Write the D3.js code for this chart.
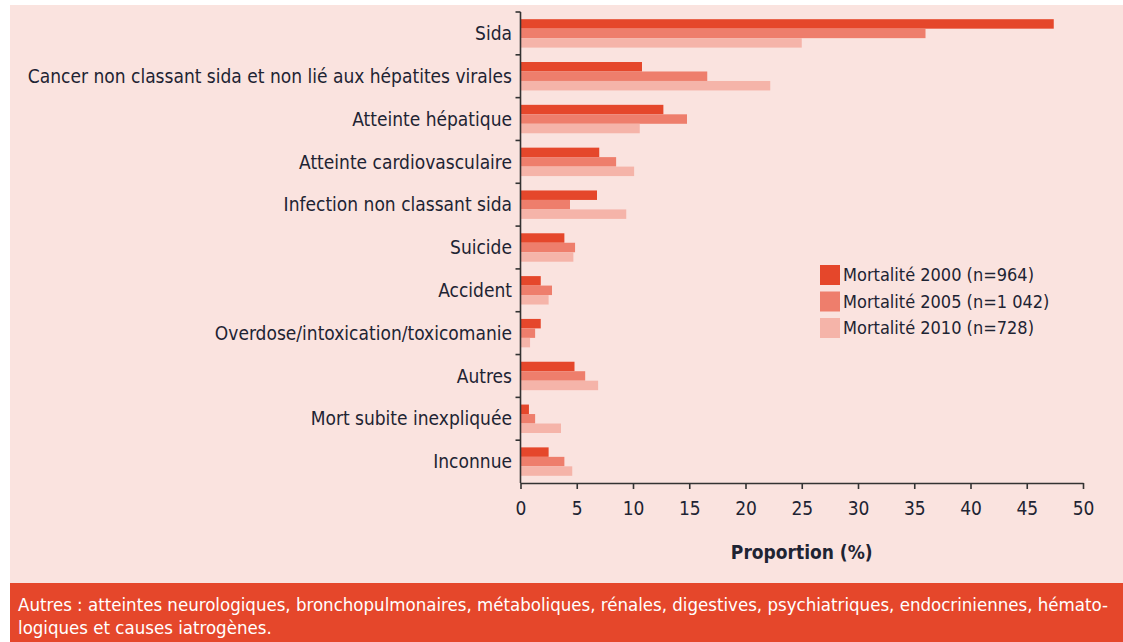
<!DOCTYPE html>
<html>
<head>
<meta charset="utf-8">
<script src="https://cdn.jsdelivr.net/npm/d3@7"></script>
<style>
  body { margin: 0; background: #fff; }
  svg { display: block; }
  text { font-family: "Liberation Sans Narrow", "DejaVu Sans Condensed", "Roboto", sans-serif; }
</style>
</head>
<body>
<svg id="chart" width="1123" height="642"></svg>
<script>
const categories = [
  "Sida",
  "Cancer non classant sida et non lié aux hépatites virales",
  "Atteinte hépatique",
  "Atteinte cardiovasculaire",
  "Infection non classant sida",
  "Suicide",
  "Accident",
  "Overdose/intoxication/toxicomanie",
  "Autres",
  "Mort subite inexpliquée",
  "Inconnue"
]
const series = ["Mortalité 2000 (n=964)", "Mortalité 2005 (n=1 042)", "Mortalité 2010 (n=728)"]
const v2000 = [47.4, 10.8, 12.7, 7.0, 6.8, 3.9, 1.8, 1.8, 4.8, 0.75, 2.5]
const v2005 = [36.0, 16.6, 14.8, 8.5, 4.4, 4.85, 2.8, 1.3, 5.75, 1.3, 3.9]
const v2010 = [25.0, 22.2, 10.6, 10.1, 9.4, 4.7, 2.5, 0.85, 6.9, 3.6, 4.6]
const xTicks = [0, 5, 10, 15, 20, 25, 30, 35, 40, 45, 50]
const footnote = [
  "Autres : atteintes neurologiques, bronchopulmonaires, métaboliques, rénales, digestives, psychiatriques, endocriniennes, hémato-",
  "logiques et causes iatrogènes."
]

const colors = ["#e5472b", "#ee7e6c", "#f5b4a9"]
const textCol = "#1e2433"

const svg = d3.select("#chart")

// panel + footer band
svg.append("rect").attr("x", 10).attr("y", 5).attr("width", 1113).attr("height", 578).attr("fill", "#fae3df")
svg.append("rect").attr("x", 10).attr("y", 583).attr("width", 1113).attr("height", 59).attr("fill", "#e5472b")

const x = d3.scaleLinear().domain([0, 50]).range([520.5, 1083])
const y = d3.scaleBand().domain(categories).range([12, 483]).paddingInner(0.336).paddingOuter(0.168)
const ySub = d3.scaleBand().domain(series).range([0, y.bandwidth()])

const rows = categories.map((c, i) => ({ cat: c, vals: [v2000[i], v2005[i], v2010[i]] }))

const G = svg.append("g")
const rowG = G.selectAll("g.row").data(rows).join("g")
  .attr("class", "row")
  .attr("transform", d => `translate(0,${y(d.cat)})`)

rowG.selectAll("rect").data(d => d.vals.map((v, k) => ({ v, k }))).join("rect")
  .attr("x", x(0))
  .attr("y", d => ySub(series[d.k]))
  .attr("width", d => x(d.v) - x(0))
  .attr("height", ySub.bandwidth())
  .attr("fill", d => colors[d.k])

// y axis: line + ticks at category boundaries
const yBounds = categories.map(c => y(c) - y.step() * y.paddingInner() / 2)
G.append("line").attr("x1", x(0)).attr("x2", x(0)).attr("y1", 12).attr("y2", 483)
  .attr("stroke", "#333").attr("stroke-width", 1.6)
G.selectAll("line.yt").data(yBounds).join("line").attr("class", "yt")
  .attr("x1", x(0) - 5).attr("x2", x(0)).attr("y1", d => d).attr("y2", d => d)
  .attr("stroke", "#333").attr("stroke-width", 1.6)

G.selectAll("text.cat").data(categories).join("text").attr("class", "cat")
  .attr("x", 512).attr("y", d => y(d) + y.bandwidth() / 2)
  .attr("dy", "0.35em").attr("text-anchor", "end")
  .attr("font-size", 19).attr("fill", textCol)
  .text(d => d)

// x axis
const xAxis = d3.axisBottom(x).tickValues(xTicks).tickSize(6).tickPadding(13).tickSizeOuter(0)
const gx = svg.append("g").attr("transform", "translate(0,483)").call(xAxis)
gx.select(".domain").attr("stroke", "#333").attr("stroke-width", 1.6)
gx.selectAll(".tick line").attr("stroke", "#333").attr("stroke-width", 1.6)
gx.selectAll(".tick text").attr("font-size", 19).attr("fill", textCol)
  .style("font-family", "'Liberation Sans Narrow', 'DejaVu Sans Condensed', sans-serif")

svg.append("text").attr("x", (x(0) + x(50)) / 2).attr("y", 559)
  .attr("text-anchor", "middle").attr("font-size", 19).attr("font-weight", "bold")
  .attr("fill", textCol).text("Proportion (%)")

// legend
const leg = svg.append("g").attr("transform", "translate(820,265)")
const li = leg.selectAll("g").data(series).join("g").attr("transform", (d, i) => `translate(0,${i * 26.5})`)
li.append("rect").attr("width", 20).attr("height", 20).attr("fill", (d, i) => colors[i])
li.append("text").attr("x", 23).attr("y", 10).attr("dy", "0.36em")
  .attr("font-size", 18).attr("fill", textCol).text(d => d)

// footnote
svg.selectAll("text.foot").data(footnote).join("text").attr("class", "foot")
  .attr("x", 18).attr("y", (d, i) => 611 + i * 23)
  .attr("font-size", 18.5).attr("fill", "#fff")
  .text(d => d)
</script>
</body>
</html>
